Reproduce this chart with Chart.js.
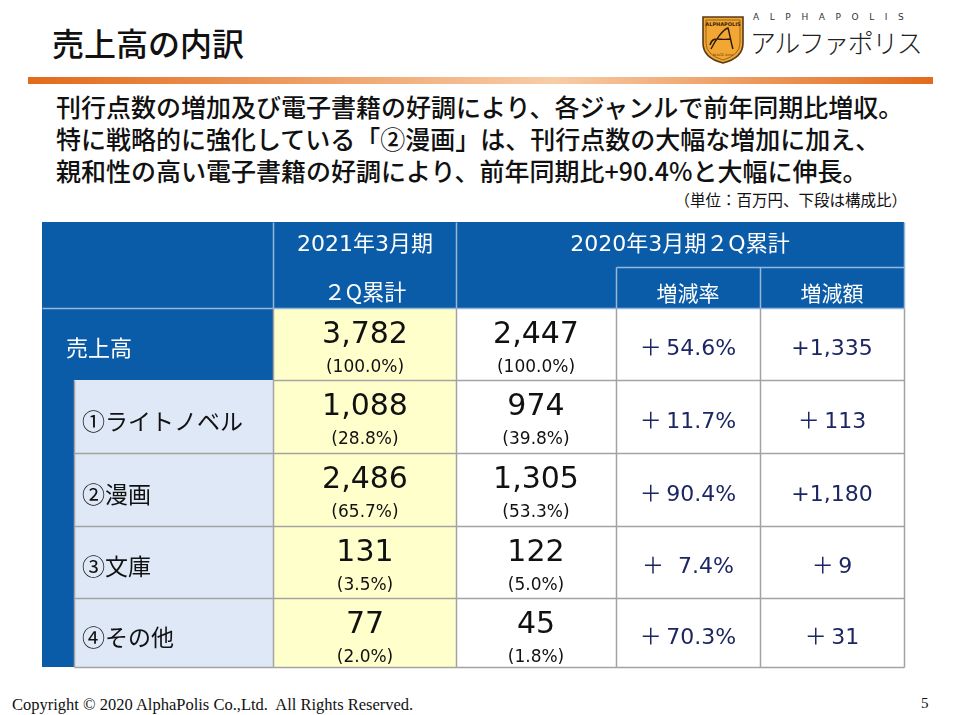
<!DOCTYPE html>
<html lang="ja">
<head>
<meta charset="utf-8">
<title>売上高の内訳</title>
<script src="https://cdn.jsdelivr.net/npm/chart.js@4.4.0/dist/chart.umd.min.js"></script>
<style>
    body { margin: 0; background: #fff; font-family: "Noto Sans CJK JP", sans-serif; }
    #page { position: relative; width: 953px; height: 715px; overflow: hidden; background: #fff; }
    .title { position: absolute; left: 52px; top: 22px; font-size: 32px; line-height: 40px; font-weight: 500; color: #111; }
    .rule { position: absolute; left: 28px; top: 77px; width: 905px; height: 7px;
            background: linear-gradient(to right, #e26b1b 0%, #f8cca6 58%, #e26b1b 100%); }
    .lead { position: absolute; left: 56px; top: 90px; font-size: 25px; line-height: 32px; font-weight: 500; color: #111; white-space: nowrap; }
    .unit { position: absolute; right: 46px; top: 189px; font-size: 15.5px; line-height: 20px; color: #111; }
    .logo-en { position: absolute; left: 753px; top: 12px; font-family: "DejaVu Sans", sans-serif; font-size: 9px; letter-spacing: 10.6px; color: #333; }
    .logo-jp { position: absolute; left: 750px; top: 24px; font-size: 26px; line-height: 36px; font-weight: 300; letter-spacing: -1.5px; color: #222; }
    #logoMark { position: absolute; left: 701px; top: 15px; }
    #tableWrap { position: absolute; left: 42px; top: 222px; width: 864px; height: 447px; }
    .footer { position: absolute; left: 12px; top: 695px; font-family: "Liberation Serif", serif; font-size: 16.5px; color: #111; }
    .pageno { position: absolute; left: 921px; top: 695px; font-family: "Liberation Serif", serif; font-size: 15px; color: #111; }
</style>
</head>
<body>
<div id="page">
    <div class="title">売上高の内訳</div>

    <svg id="logoMark" width="44" height="50" viewBox="0 0 44 50">
        <path d="M2,2 H42 V28 Q42,43 22,48 Q2,43 2,28 Z" fill="#f2a634" stroke="#5a3a12" stroke-width="1.6"/>
        <path d="M5,5 H39 V28 Q39,40 22,45 Q5,40 5,28 Z" fill="none" stroke="#5a3a12" stroke-width="0.6"/>
        <text x="22" y="11" text-anchor="middle" font-family="DejaVu Sans" font-size="5" font-weight="bold" fill="#3a2408">ALPHAPOLIS</text>
        <path d="M10,34 C14,26 22,14 27,13 C29,20 30,28 32,34 M9,30 C12,20 18,26 30,24" fill="none" stroke="#2a1a05" stroke-width="1.4"/>
        <text x="22" y="41" text-anchor="middle" font-family="DejaVu Serif" font-size="3.2" fill="#3a2408">SINCE 2000</text>
    </svg>
    <div class="logo-en">ALPHAPOLIS</div>
    <div class="logo-jp">アルファポリス</div>

    <div class="rule"></div>

    <div class="lead">刊行点数の増加及び電子書籍の好調により、各ジャンルで前年同期比増収。<br>特に戦略的に強化している「②漫画」は、刊行点数の大幅な増加に加え、<br>親和性の高い電子書籍の好調により、前年同期比+90.4%と大幅に伸長。</div>
    <div class="unit">（単位：百万円、下段は構成比）</div>

    <div id="tableWrap"><canvas id="salesTable" width="864" height="447"></canvas></div>

    <div class="footer">Copyright © 2020 AlphaPolis Co.,Ltd.&nbsp; All Rights Reserved.</div>
    <div class="pageno">5</div>
</div>

<script>
// table contents
const rowLabels = ['売上高', '①ライトノベル', '②漫画', '③文庫', '④その他'];
const sales2021 = [3782, 1088, 2486, 131, 77];
const share2021 = [100.0, 28.8, 65.7, 3.5, 2.0];
const sales2020 = [2447, 974, 1305, 122, 45];
const share2020 = [100.0, 39.8, 53.3, 5.0, 1.8];
const changeRate = [54.6, 11.7, 90.4, 7.4, 70.3];
const changeAmount = [1335, 113, 1180, 9, 31];
const headCurrent = ['2021年3月期', '２Q累計'];
const headPrevious = '2020年3月期２Q累計';
const headChange = ['増減率', '増減額'];

// layout in table units (1 unit = 1px)
const colEdges = [0, 32, 231, 414, 574, 718, 862];
const headSplit = 45;
const rowEdges = [86, 158, 231, 304, 376, 445];

const BLUE = 'rgb(11, 92, 168)';
const HEAD_LINE = 'rgb(150, 182, 218)';
const GRID = '#a3a3a3';
const LABEL_BG = 'rgb(222, 232, 246)';
const YELLOW = 'rgb(255, 255, 204)';
const NAVY = 'rgb(28, 38, 98)';
const JP_FONT = '"Noto Sans CJK JP", sans-serif';
const NUM_FONT = '"DejaVu Sans", "Noto Sans CJK JP", sans-serif';

const fmtNum = v => v.toLocaleString('en-US');
const fmtShare = v => '(' + v.toFixed(1) + '%)';
const fmtRate = v => '＋' + (v < 10 ? '  ' : '\u2009') + v.toFixed(1) + '%';
const fmtAmount = v => v >= 1000 ? '+' + fmtNum(v) : '＋\u2009' + v;

const tablePlugin = {
    id: 'salesTable',
    afterDraw(chart) {
        const { ctx, scales: { x, y } } = chart;
        const px = v => Math.round(x.getPixelForValue(v));
        const py = v => Math.round(y.getPixelForValue(v));

        const rect = (x0, y0, x1, y1, fill) => {
            ctx.fillStyle = fill;
            ctx.fillRect(px(x0), py(y0), px(x1) - px(x0), py(y1) - py(y0));
        };
        const line = (x0, y0, x1, y1, color) => {
            ctx.strokeStyle = color;
            ctx.lineWidth = 1.5;
            ctx.beginPath();
            ctx.moveTo(px(x0) + 0.5, py(y0) + 0.5);
            ctx.lineTo(px(x1) + 0.5, py(y1) + 0.5);
            ctx.stroke();
        };
        const text = (str, cx, cy, size, color, family, align = 'center') => {
            ctx.font = `400 ${size}px ${family}`;
            ctx.fillStyle = color;
            ctx.textAlign = align;
            ctx.textBaseline = 'middle';
            ctx.fillText(str, px(cx), py(cy));
        };

        const top = rowEdges[0];
        const bottom = rowEdges[rowEdges.length - 1];
        const right = colEdges[6];

        ctx.save();
        // backgrounds
        rect(0, 0, right, top, BLUE);
        rect(0, top, colEdges[2], rowEdges[1], BLUE);
        rect(0, rowEdges[1], colEdges[1], bottom, BLUE);
        rect(colEdges[1], rowEdges[1], colEdges[2], bottom, LABEL_BG);
        rect(colEdges[2], top, colEdges[3], bottom, YELLOW);

        // header lines
        line(colEdges[2], 0, colEdges[2], top, HEAD_LINE);
        line(colEdges[3], 0, colEdges[3], top, HEAD_LINE);
        line(colEdges[4], headSplit, right, headSplit, HEAD_LINE);
        line(colEdges[4], headSplit, colEdges[4], top, HEAD_LINE);
        line(colEdges[5], headSplit, colEdges[5], top, HEAD_LINE);
        line(right, 0, right, top, HEAD_LINE);
        line(0, top, right, top, HEAD_LINE);

        // body grid
        for (let i = 1; i < rowEdges.length; i++) {
            const x0 = i === 1 ? colEdges[2] : colEdges[1];
            line(x0, rowEdges[i], right, rowEdges[i], GRID);
        }
        line(colEdges[1], rowEdges[1], colEdges[1], bottom, GRID);
        for (let c = 2; c <= 6; c++) line(colEdges[c], top, colEdges[c], bottom, GRID);

        // header text
        const midCur = (colEdges[2] + colEdges[3]) / 2;
        text(headCurrent[0], midCur, 23, 22, '#fff', NUM_FONT);
        text(headCurrent[1], midCur, 70, 22, '#fff', JP_FONT);
        text(headPrevious, (colEdges[3] + right) / 2, 23, 22, '#fff', NUM_FONT);
        text(headChange[0], (colEdges[4] + colEdges[5]) / 2, 71, 21, '#fff', JP_FONT);
        text(headChange[1], (colEdges[5] + right) / 2, 71, 21, '#fff', JP_FONT);

        // rows
        rowLabels.forEach((label, i) => {
            const r0 = rowEdges[i], r1 = rowEdges[i + 1];
            const mid = (r0 + r1) / 2 + 4;
            if (i === 0) text(label, 24, mid, 22, '#fff', JP_FONT, 'left');
            else text(label, 40, mid, 23, '#111', JP_FONT, 'left');

            const c1 = (colEdges[2] + colEdges[3]) / 2;
            const c2 = (colEdges[3] + colEdges[4]) / 2;
            text(fmtNum(sales2021[i]), c1, r0 + 27, 30, '#111', NUM_FONT);
            text(fmtShare(share2021[i]), c1, r0 + 60, 17, '#111', NUM_FONT);
            text(fmtNum(sales2020[i]), c2, r0 + 27, 30, '#111', NUM_FONT);
            text(fmtShare(share2020[i]), c2, r0 + 60, 17, '#111', NUM_FONT);
            text(fmtRate(changeRate[i]), (colEdges[4] + colEdges[5]) / 2, mid + 1, 22, NAVY, NUM_FONT);
            text(fmtAmount(changeAmount[i]), (colEdges[5] + right) / 2, mid + 1, 22, NAVY, NUM_FONT);
        });
        ctx.restore();
    }
};

new Chart(document.getElementById('salesTable'), {
    type: 'scatter',
    data: { datasets: [] },
    options: {
        responsive: false,
        animation: false,
        layout: { padding: 0 },
        plugins: { legend: { display: false }, tooltip: { enabled: false } },
        scales: {
            x: { type: 'linear', min: 0, max: 864, display: false },
            y: { type: 'linear', min: 0, max: 447, reverse: true, display: false }
        }
    },
    plugins: [tablePlugin]
});
</script>
</body>
</html>
